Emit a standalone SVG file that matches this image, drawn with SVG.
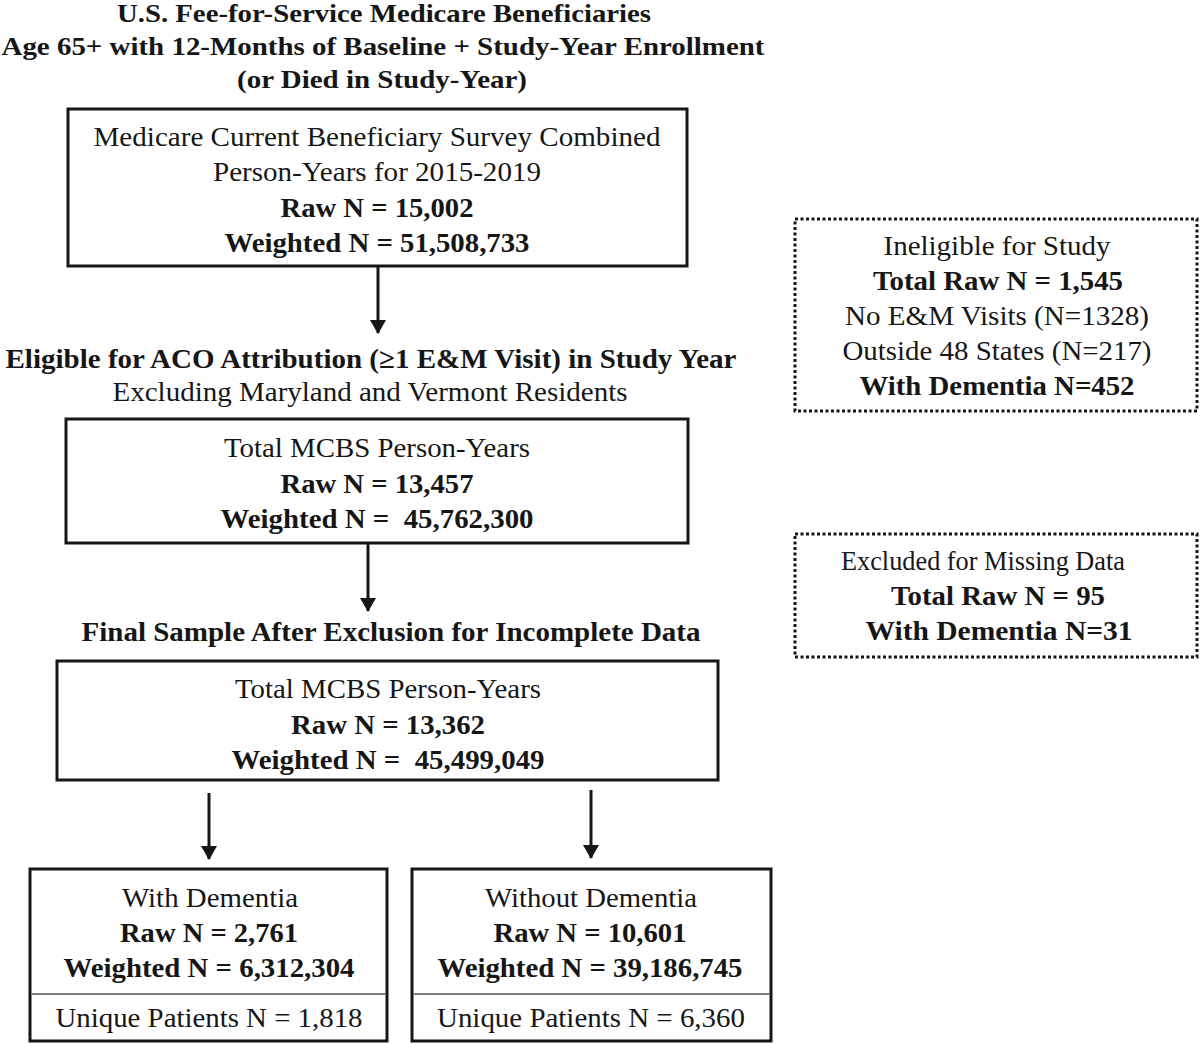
<svg xmlns="http://www.w3.org/2000/svg" width="1200" height="1044" viewBox="0 0 1200 1044">
<defs>
<style>
text{font-family:"Liberation Serif","Times New Roman",serif;fill:#161616;text-anchor:middle;}
.h{font-size:26px;font-weight:bold;}
.n{font-size:28px;}
.b{font-size:28px;font-weight:bold;}
.box{fill:#fff;stroke:#161616;stroke-width:3;}
.dot{fill:#fff;stroke:#161616;stroke-width:3;stroke-dasharray:3 2.5;}
.div{stroke:#555;stroke-width:1.5;}
.conn line{stroke:#161616;stroke-width:3;}
</style>
<marker id="ah" markerWidth="14" markerHeight="16" refX="13" refY="8" orient="auto" markerUnits="userSpaceOnUse" viewBox="0 0 14 16">
<path d="M0,0 L14,8 L0,16 Z" fill="#161616"/>
</marker>
</defs>

<g id="title">
<text class="h" x="384" y="22" textLength="534" lengthAdjust="spacingAndGlyphs">U.S. Fee-for-Service Medicare Beneficiaries</text>
<text class="h" x="383" y="55" textLength="763" lengthAdjust="spacingAndGlyphs">Age 65+ with 12-Months of Baseline + Study-Year Enrollment</text>
<text class="h" x="382" y="88" textLength="290" lengthAdjust="spacingAndGlyphs">(or Died in Study-Year)</text>
</g>

<g id="box1">
<rect class="box" x="68" y="109" width="619" height="157"/>
<text class="n" x="377" y="146" textLength="567" lengthAdjust="spacingAndGlyphs">Medicare Current Beneficiary Survey Combined</text>
<text class="n" x="377" y="181" textLength="328" lengthAdjust="spacingAndGlyphs">Person-Years for 2015-2019</text>
<text class="b" x="377" y="217" textLength="193" lengthAdjust="spacingAndGlyphs">Raw N = 15,002</text>
<text class="b" x="377" y="252" textLength="305" lengthAdjust="spacingAndGlyphs">Weighted N = 51,508,733</text>
</g>

<g id="eligible-label">
<text class="b" x="371" y="368" textLength="731" lengthAdjust="spacingAndGlyphs">Eligible for ACO Attribution (≥1 E&amp;M Visit) in Study Year</text>
<text class="n" x="370" y="401" textLength="515" lengthAdjust="spacingAndGlyphs">Excluding Maryland and Vermont Residents</text>
</g>

<g id="box2">
<rect class="box" x="66" y="419" width="622" height="124"/>
<text class="n" x="377" y="457" textLength="306" lengthAdjust="spacingAndGlyphs">Total MCBS Person-Years</text>
<text class="b" x="377" y="493" textLength="193" lengthAdjust="spacingAndGlyphs">Raw N = 13,457</text>
<text class="b" x="377" y="528" textLength="313" lengthAdjust="spacingAndGlyphs">Weighted N =&#160; 45,762,300</text>
</g>

<g id="final-label">
<text class="b" x="391" y="641" textLength="619" lengthAdjust="spacingAndGlyphs">Final Sample After Exclusion for Incomplete Data</text>
</g>

<g id="box3">
<rect class="box" x="57" y="661" width="661" height="119"/>
<text class="n" x="388" y="698" textLength="306" lengthAdjust="spacingAndGlyphs">Total MCBS Person-Years</text>
<text class="b" x="388" y="734" textLength="194" lengthAdjust="spacingAndGlyphs">Raw N = 13,362</text>
<text class="b" x="388" y="769" textLength="313" lengthAdjust="spacingAndGlyphs">Weighted N =&#160; 45,499,049</text>
</g>

<g id="box-with-dementia">
<rect class="box" x="30" y="869" width="357" height="172"/>
<line class="div" x1="31.5" y1="994" x2="385.5" y2="994"/>
<text class="n" x="210" y="907" textLength="176" lengthAdjust="spacingAndGlyphs">With Dementia</text>
<text class="b" x="209" y="942" textLength="178" lengthAdjust="spacingAndGlyphs">Raw N = 2,761</text>
<text class="b" x="209" y="977" textLength="291" lengthAdjust="spacingAndGlyphs">Weighted N = 6,312,304</text>
<text class="n" x="209" y="1027" textLength="307" lengthAdjust="spacingAndGlyphs">Unique Patients N = 1,818</text>
</g>

<g id="box-without-dementia">
<rect class="box" x="412" y="869" width="359" height="172"/>
<line class="div" x1="413.5" y1="994" x2="769.5" y2="994"/>
<text class="n" x="591" y="907" textLength="212" lengthAdjust="spacingAndGlyphs">Without Dementia</text>
<text class="b" x="590" y="942" textLength="193" lengthAdjust="spacingAndGlyphs">Raw N = 10,601</text>
<text class="b" x="590" y="977" textLength="305" lengthAdjust="spacingAndGlyphs">Weighted N = 39,186,745</text>
<text class="n" x="591" y="1027" textLength="308" lengthAdjust="spacingAndGlyphs">Unique Patients N = 6,360</text>
</g>

<g id="ineligible">
<rect class="dot" x="795" y="219" width="402" height="192"/>
<text class="n" x="997" y="255" textLength="227" lengthAdjust="spacingAndGlyphs">Ineligible for Study</text>
<text class="b" x="998" y="290" textLength="250" lengthAdjust="spacingAndGlyphs">Total Raw N = 1,545</text>
<text class="n" x="997" y="325" textLength="304" lengthAdjust="spacingAndGlyphs">No E&amp;M Visits (N=1328)</text>
<text class="n" x="997" y="360" textLength="309" lengthAdjust="spacingAndGlyphs">Outside 48 States (N=217)</text>
<text class="b" x="997" y="395" textLength="275" lengthAdjust="spacingAndGlyphs">With Dementia N=452</text>
</g>

<g id="excluded">
<rect class="dot" x="795" y="534" width="402" height="123"/>
<text class="n" x="983" y="570" textLength="284" lengthAdjust="spacingAndGlyphs">Excluded for Missing Data</text>
<text class="b" x="998" y="605" textLength="214" lengthAdjust="spacingAndGlyphs">Total Raw N = 95</text>
<text class="b" x="999" y="640" textLength="267" lengthAdjust="spacingAndGlyphs">With Dementia N=31</text>
</g>

<g class="conn" id="connectors">
<line x1="378" y1="266" x2="378" y2="333" marker-end="url(#ah)"/>
<line x1="368" y1="543" x2="368" y2="611" marker-end="url(#ah)"/>
<line x1="209" y1="793" x2="209" y2="859" marker-end="url(#ah)"/>
<line x1="591" y1="790" x2="591" y2="858" marker-end="url(#ah)"/>
</g>
</svg>
